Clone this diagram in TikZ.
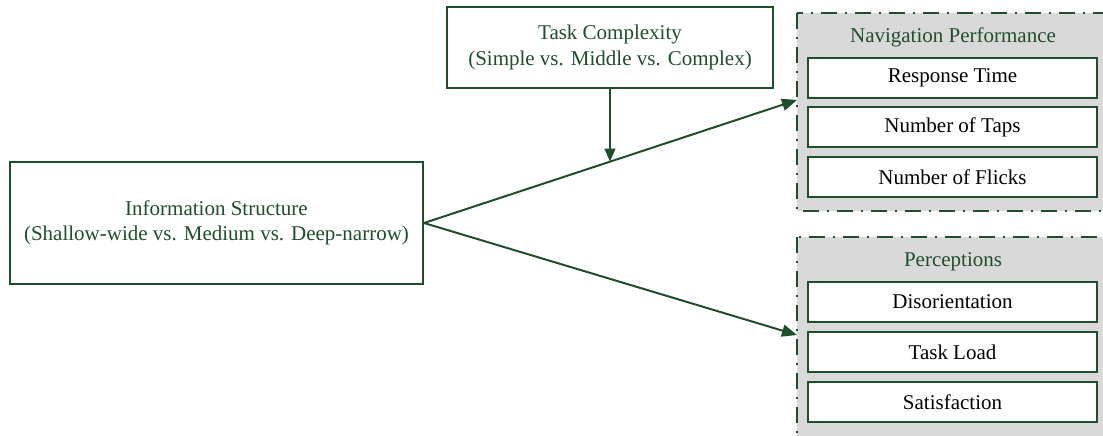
\documentclass[tikz,border=0pt]{standalone}
\usepackage{fontspec}
\setmainfont{Liberation Serif}
\usetikzlibrary{arrows.meta,calc}
\definecolor{dgreen}{RGB}{30,78,44}
\definecolor{lgray}{RGB}{217,217,217}
\begin{document}
\begin{tikzpicture}[x=1pt,y=-1pt,
  box/.style={draw=dgreen,line width=2pt,fill=white,align=center,inner sep=0pt},
  gtext/.style={text=dgreen,font=\rmfamily\fontsize{21}{25.5}\selectfont},
  btext/.style={text=black,font=\rmfamily\fontsize{21}{25.5}\selectfont},
  group/.style={draw=dgreen,fill=lgray,line width=2pt,dash pattern=on 16pt off 8pt on 2pt off 8pt},
  arr/.style={draw=dgreen,line width=2pt,-{Triangle[length=15pt,width=12pt]}},
  arrthin/.style={draw=dgreen,line width=1.5pt,-{Triangle[length=13pt,width=11pt]}}]
\useasboundingbox (0,0) rectangle (1103,436);
% groups
\draw[group] (797,13) rectangle (1112,211);
\draw[group] (797,237) rectangle (1112,446);
\node[gtext] (navt) at (953,37) {Navigation Performance};
\node[gtext] (perct) at (953,262) {Perceptions};
\coordinate (navin) at (797,100);
\coordinate (percin) at (797,335);
% inner boxes
\node[box,btext,minimum width=289pt,minimum height=40pt] (rt) at (952.5,78) {Response Time};
\node[box,btext,minimum width=289pt,minimum height=40pt] (nt) at (952.5,127) {Number of Taps};
\node[box,btext,minimum width=289pt,minimum height=40pt] (nf) at (952.5,177) {Number of Flicks};
\node[box,btext,minimum width=289pt,minimum height=40pt] (dis) at (952.5,302) {Disorientation};
\node[box,btext,minimum width=289pt,minimum height=40pt] (tl) at (952.5,352) {Task Load};
\node[box,btext,minimum width=289pt,minimum height=40pt] (sat) at (952.5,402) {Satisfaction};
% main boxes
\node[box,gtext,minimum width=413pt,minimum height=122pt] (info) at (216.5,223) {Information Structure\\(Shallow-wide vs. Medium vs. Deep-narrow)};
\node[box,gtext,minimum width=326pt,minimum height=81pt] (task) at (610,47.5) {Task Complexity\\(Simple vs. Middle vs. Complex)};
% connectors
\draw[arr] (info.east) -- (navin);
\draw[arr] (info.east) -- (percin);
\coordinate (hit) at ($(info.east)!0.5!(navin)$);
\draw[arrthin] (task.south) -- (task.south |- hit);
\end{tikzpicture}
\end{document}
